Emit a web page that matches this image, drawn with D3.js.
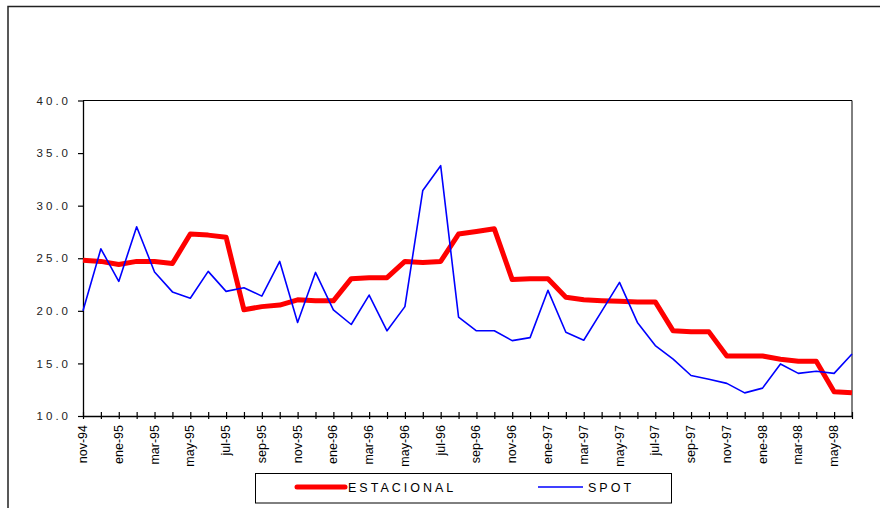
<!DOCTYPE html>
<html>
<head>
<meta charset="utf-8">
<script src="https://cdn.jsdelivr.net/npm/d3@7"></script>
<style>
  html, body { margin: 0; padding: 0; background: #fff; }
  svg { display: block; font-family: "Liberation Sans", Arial, sans-serif; }
</style>
</head>
<body>
<svg id="chart" width="880" height="508"></svg>
<script>
// Monthly series, nov-94 .. jun-98
const months = [
  "nov-94","dic-94","ene-95","feb-95","mar-95","abr-95","may-95","jun-95","jul-95","ago-95","sep-95","oct-95",
  "nov-95","dic-95","ene-96","feb-96","mar-96","abr-96","may-96","jun-96","jul-96","ago-96","sep-96","oct-96",
  "nov-96","dic-96","ene-97","feb-97","mar-97","abr-97","may-97","jun-97","jul-97","ago-97","sep-97","oct-97",
  "nov-97","dic-97","ene-98","feb-98","mar-98","abr-98","may-98","jun-98"
];

const estacional = [
  24.8, 24.7, 24.4, 24.7, 24.7, 24.5, 27.3, 27.2, 27.0, 20.1, 20.4, 20.55,
  21.05, 20.97, 20.95, 23.06, 23.15, 23.15, 24.7, 24.6, 24.7, 27.3, 27.55, 27.8,
  22.97, 23.06, 23.06, 21.3, 21.05, 20.97, 20.9, 20.85, 20.85, 18.1, 18.0, 18.0,
  15.7, 15.7, 15.7, 15.4, 15.2, 15.2, 12.3, 12.2
];

const spot = [
  20.0, 25.9, 22.8, 28.0, 23.7, 21.8, 21.2, 23.75, 21.85, 22.2, 21.4, 24.7,
  18.9, 23.65, 20.1, 18.7, 21.5, 18.1, 20.4, 31.45, 33.8, 19.4, 18.1, 18.1,
  17.17, 17.45, 21.95, 17.96, 17.2, 19.95, 22.7, 18.9, 16.7, 15.4, 13.85, 13.5,
  13.1, 12.2, 12.65, 14.95, 14.05, 14.25, 14.05, 15.9
];

const yTicks = [10, 15, 20, 25, 30, 35, 40];

const seriesNames = ["ESTACIONAL", "SPOT"];
const seriesColors = ["#ff0000", "#0000ff"];
const seriesWidths = [5, 1.6];

const svg = d3.select("#chart");

// outer frame (top and left edges)
svg.append("path")
  .attr("d", "M8,508 L8,6.5 L880,6.5")
  .attr("fill", "none")
  .attr("stroke", "#222")
  .attr("stroke-width", 1.5);

const plotLeft = 83, plotRight = 852, plotTop = 100.5, plotBottom = 416;

const x = d3.scalePoint().domain(months).range([plotLeft, plotRight]);
const y = d3.scaleLinear().domain([10, 40]).range([plotBottom, plotTop]);

// plot area border (top and right)
svg.append("path")
  .attr("d", `M${plotLeft},${plotTop} L${plotRight},${plotTop} L${plotRight},${plotBottom}`)
  .attr("fill", "none")
  .attr("stroke", "#000")
  .attr("stroke-width", 1);

// y axis
const yAxis = svg.append("g")
  .attr("transform", `translate(${plotLeft},0)`)
  .call(d3.axisLeft(y).tickValues(yTicks).tickSize(5).tickSizeOuter(0)
        .tickFormat(d3.format(".1f")).tickPadding(7));
yAxis.select(".domain").attr("stroke", "#000").attr("stroke-width", 1.3);
yAxis.selectAll(".tick line").attr("stroke", "#000").attr("stroke-width", 1.2);
yAxis.selectAll(".tick text")
  .attr("font-size", 11.5)
  .attr("font-family", "'Liberation Sans', Arial, sans-serif")
  .attr("letter-spacing", "3px")
  .attr("fill", "#222");

// x axis: a tick every month crossing the axis, a label every second month
const xAxis = svg.append("g")
  .attr("transform", `translate(0,${plotBottom})`)
  .call(d3.axisBottom(x).tickSize(3).tickSizeOuter(0).tickFormat(""));
xAxis.select(".domain").attr("stroke", "#000").attr("stroke-width", 1.5);
xAxis.selectAll(".tick line").attr("y1", -4).attr("y2", 3).attr("stroke", "#000").attr("stroke-width", 1.2);

svg.append("g")
  .selectAll("text")
  .data(months.filter((m, i) => i % 2 === 0))
  .join("text")
  .attr("transform", d => `translate(${x(d)},425) rotate(-90)`)
  .attr("text-anchor", "end")
  .attr("dy", "0.32em")
  .attr("font-size", 12.5)
  .attr("fill", "#000")
  .text(d => d);

// series lines
const line = d3.line().x((d, i) => x(months[i])).y(d => y(d));
[estacional, spot].forEach((vals, k) => {
  svg.append("path")
    .datum(vals)
    .attr("d", line)
    .attr("fill", "none")
    .attr("stroke", seriesColors[k])
    .attr("stroke-width", seriesWidths[k])
    .attr("stroke-linejoin", "round");
});

// legend
const legend = svg.append("g");
legend.append("rect")
  .attr("x", 255.5).attr("y", 473.5).attr("width", 416).attr("height", 29.5)
  .attr("fill", "#fff").attr("stroke", "#000").attr("stroke-width", 1);
const legendItems = [
  { x1: 297, x2: 345, tx: 348 },
  { x1: 538, x2: 583, tx: 588 }
];
legendItems.forEach((it, k) => {
  legend.append("line")
    .attr("x1", it.x1).attr("x2", it.x2).attr("y1", 487).attr("y2", 487)
    .attr("stroke", seriesColors[k]).attr("stroke-width", seriesWidths[k])
    .attr("stroke-linecap", k === 0 ? "round" : "butt");
  legend.append("text")
    .attr("x", it.tx).attr("y", 491.5)
    .attr("font-size", 12.5)
    .attr("letter-spacing", "3px")
    .attr("fill", "#000")
    .text(seriesNames[k]);
});
</script>
</body>
</html>
